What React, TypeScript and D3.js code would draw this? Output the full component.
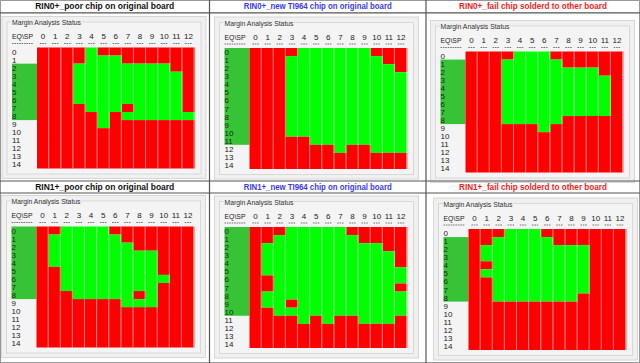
import * as d3 from "d3";

// SP columns and EQ rows of every margin map
const spLabels = d3.range(13);
const eqLabels = d3.range(15);

const titles = [
  "RIN0+_poor chip on original board",
  "RIN0+_new TI964 chip on original board",
  "RIN0+_fail chip solderd to other board",
  "RIN1+_poor chip on original board",
  "RIN1+_new TI964 chip on original board",
  "RIN1+_fail chip solderd to other board",
];
const titleColors = ["#111111", "#3a3af0", "#f01c1c", "#111111", "#3a3af0", "#f01c1c"];

// passing (green) EQ ranges per SP column, [from, to] inclusive
const rin0Poor = [[], [], [], [[2, 6]], [[0, 7]], [[1, 9]], [[1, 7]], [[2, 6], [8, 8]], [[2, 8]], [[2, 8]], [[2, 8]], [[3, 8]], [[8, 8]]];
const rin0New = [[], [], [], [[1, 10]], [[0, 10]], [[0, 11]], [[0, 11]], [[0, 12]], [[0, 11]], [[0, 11]], [[1, 12]], [[2, 12]], [[3, 12]]];
const rin0Fail = [[], [], [], [[1, 8]], [[0, 8]], [[0, 8]], [[0, 9]], [[1, 8]], [[2, 7]], [[2, 7]], [[2, 7]], [[3, 7]], []];
const rin1Poor = [[], [[1, 4]], [[0, 7]], [[0, 8]], [[0, 8]], [[0, 8]], [[1, 8]], [[2, 9]], [[3, 7], [9, 9]], [[3, 9]], [[6, 6]], [], []];
const rin1New = [[], [[2, 5], [8, 9]], [[1, 10]], [[0, 8], [10, 10]], [[0, 11]], [[0, 10]], [[0, 11]], [[0, 10]], [[1, 10]], [[2, 11]], [[2, 11]], [[3, 11]], [[5, 6], [8, 10]]];
const rin1Fail = [[], [[2, 3], [5, 5]], [[1, 8]], [[0, 8]], [[0, 8]], [[0, 8]], [[1, 8]], [[2, 8]], [[2, 8]], [[2, 7]], [], [], []];

// EQ rows highlighted in the label column
const eqHighlight = [[2, 8], [0, 11], [1, 8], [0, 8], [0, 10], [1, 8]];

const maps = [rin0Poor, rin0New, rin0Fail, rin1Poor, rin1New, rin1Fail];

// where each screenshot's group box sits
const boxes = [
  [7, 22], [219.5, 22.5], [435.5, 26],
  [6.5, 201], [219.5, 201.5], [438.5, 203.5],
];

const W = 640;
const H = 363;
const colEdges = [0, 209.5, 426, 640];
const rowEdges = [0, 181, 363];
const boxW = 194;
const boxH = 152;
const gridX = 30;
const gridY = 25.5;
const gridW = 157.5;
const gridH = 121;

const RED = "#ff0000";
const GREEN = "#00ff00";
const HILITE = "#36c436";
const FONT = "'Liberation Sans', Arial, sans-serif";

const x = d3.scaleBand<number>().domain(spLabels).range([0, gridW]);
const y = d3.scaleBand<number>().domain(eqLabels).range([0, gridH]);

const passes = (ranges: number[][], r: number) =>
  ranges.some(([a, b]) => r >= a && r <= b);

// merge consecutive rows with the same status into one run
function runs(ranges: number[][]) {
  const out: { from: number; to: number; ok: boolean }[] = [];
  eqLabels.forEach((e) => {
    const ok = passes(ranges, e);
    const last = out[out.length - 1];
    if (last && last.ok === ok) last.to = e;
    else out.push({ from: e, to: e, ok });
  });
  return out;
}

function Panel({ idx }: { idx: number }) {
  const [bx, by] = boxes[idx];
  const data = maps[idx];
  const [h0, h1] = eqHighlight[idx];
  return (
    <g>
      {/* window frame */}
      <rect x={bx - 5} y={by - 5.5} width={boxW + 10} height={boxH + 10} fill="#f0f0f0" stroke="#d6d6d6" />
      <rect x={bx} y={by} width={boxW} height={boxH} fill="#f4f4f4" stroke="#d8d8d8" />
      <rect x={bx + 4} y={by - 4} width={71} height={7} fill="#f0f0f0" />
      <text x={bx + 5} y={by + 3} fontSize={7.5} fill="#333" fontFamily={FONT} textLength={69} lengthAdjust="spacingAndGlyphs">
        Margin Analysis Status
      </text>
      <text x={bx + 5} y={by + 17} fontSize={8} fill="#222" fontFamily={FONT} textLength={21} lengthAdjust="spacingAndGlyphs">
        EQ\SP
      </text>
      <line x1={bx + 5} x2={bx + 26} y1={by + 21.5} y2={by + 21.5} stroke="#555" strokeWidth={0.8} strokeDasharray="1.6 0.8" />
      <g transform={`translate(${bx + gridX},${by})`}>
        {spLabels.map((s) => (
          <g key={s}>
            <text x={x(s)! + x.bandwidth() / 2} y={17} fontSize={8} fill="#222" fontFamily={FONT} textAnchor="middle">
              {s}
            </text>
            <line x1={x(s)! + x.bandwidth() / 2 - 3.2} x2={x(s)! + x.bandwidth() / 2 + 3.2} y1={21.5} y2={21.5} stroke="#555" strokeWidth={0.8} strokeDasharray="1.6 0.8" />
          </g>
        ))}
      </g>
      {/* EQ label column */}
      <g transform={`translate(${bx + 5},${by + gridY})`}>
        <rect x={0} y={y(h0)!} width={gridX - 5} height={y(h1)! + y.bandwidth() - y(h0)!} fill={HILITE} />
        {eqLabels.map((e) => (
          <text key={e} x={0} y={y(e)! + y.bandwidth() / 2 + 3} fontSize={8} fill="#222" fontFamily={FONT}>
            {e}
          </text>
        ))}
      </g>
      {/* pass / fail map */}
      <g transform={`translate(${bx + gridX},${by + gridY})`}>
        {spLabels.map((s) =>
          runs(data[s]).map((run) => (
            <rect key={`${s}-${run.from}`} x={x(s)!} y={y(run.from)!} width={x.bandwidth() + 0.3} height={y(run.to)! + y.bandwidth() - y(run.from)!} fill={run.ok ? GREEN : RED} />
          ))
        )}
        {spLabels.map((s) => (
          <rect key={`sep-${s}`} x={x(s)! + x.bandwidth() - 1} y={0} width={1} height={gridH} fill="#fff" opacity={0.5} />
        ))}
      </g>
    </g>
  );
}

export default function App() {
  return (
    <svg width={W} height={H} style={{ position: "absolute", left: 0, top: 0, background: "#fff" }}>
      <rect x={0} y={0} width={W} height={H} fill="#fff" />
      {maps.map((_, i) => (
        <Panel key={i} idx={i} />
      ))}
      {/* table rules */}
      <g stroke="#555" fill="none">
        <rect x={0.5} y={0.5} width={W - 1} height={H - 1} stroke="#999" />
        <line x1={0} x2={W} y1={12.8} y2={12.8} strokeWidth={1.2} />
        <line x1={0} x2={W} y1={181} y2={181} strokeWidth={1.2} />
        <line x1={0} x2={W} y1={193} y2={193} strokeWidth={1.2} />
        <line x1={209.5} x2={209.5} y1={0} y2={H} strokeWidth={1.2} />
        <line x1={426} x2={426} y1={0} y2={H} strokeWidth={1.2} />
      </g>
      {titles.map((t, i) => {
        const c = i % 3;
        const r = Math.floor(i / 3);
        const cx = (colEdges[c] + colEdges[c + 1]) / 2;
        return (
          <text key={t} x={cx} y={rowEdges[r] + (r === 0 ? 9 : 8.8)} fontSize={9.5} fontWeight="bold" fill={titleColors[i]} fontFamily={FONT} textAnchor="middle" textLength={c === 0 ? 139 : 148} lengthAdjust="spacingAndGlyphs">
            {t}
          </text>
        );
      })}
    </svg>
  );
}
